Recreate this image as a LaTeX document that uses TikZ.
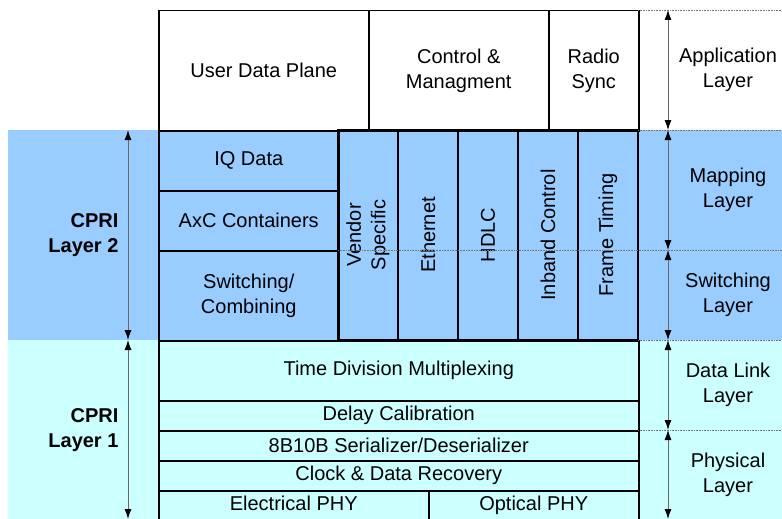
\documentclass[tikz,border=0pt]{standalone}
\usepackage{fontspec}
\setmainfont{Liberation Sans}
\usetikzlibrary{arrows.meta,positioning}
\definecolor{layertwo}{HTML}{99CCFF}
\definecolor{layerone}{HTML}{CCFFFF}
\tikzset{
  cell/.style={
    draw,
    line width = 1.5pt,
    anchor = north west,
    inner sep = 0pt,
    align = center
  },
  wh/.style 2 args={
    minimum width = #1pt,
    minimum height = #2pt
  },
  guide/.style={
    draw = black!55,
    densely dotted,
    line width = 0.6pt
  },
  dim/.style={
    draw = black!60,
    line width = 0.9pt,
    arrows = {Latex[length=10pt,width=7pt,color=black]-Latex[length=10pt,width=7pt,color=black]}
  },
  every picture/.style = {
    font=\fontsize{20}{24.5}\selectfont
  },
  layer/.style={
    align = center
  }
}
\begin{document}
\begin{tikzpicture}[x=1pt,y=-1pt]
  \useasboundingbox (0,0) rectangle (782,519);
  \fill[layertwo] (8,130) rectangle (782,340);
  \fill[layerone] (8,340) rectangle (782,519);
  % application row
  \node[cell,wh={210}{120}] (udp) at (158,10) {User Data Plane};
  \node[cell,wh={180}{120}] (cm) at (368,10) {Control \&\\Managment};
  \node[cell,wh={90}{120}] (rs) at (548,10) {Radio\\Sync};
  % layer 2
  \node[cell,wh={180}{60}] (iq) at (158,130) {IQ Data};
  \node[cell,wh={180}{60}] (axc) at (158,190) {AxC Containers};
  \node[cell,wh={180}{90}] (sw) at (158,250) {Switching/\\Combining};
  \foreach \x/\t [count=\i] in {368/{Vendor\\Specific},428/Ethernet,488/HDLC,548/Inband Control,608/Frame Timing}{
    \node[cell,anchor=center,rotate=90,wh={210}{60}] (c\i) at (\x,235) {\t};
  }
  % layer 1
  \node[cell,wh={480}{60}] (tdm) at (158,340) {Time Division Multiplexing};
  \node[cell,wh={480}{30}] (dc) at (158,400) {Delay Calibration};
  \node[cell,wh={480}{30}] (ser) at (158,430) {8B10B Serializer/Deserializer};
  \node[cell,wh={480}{30}] (cdr) at (158,460) {Clock \& Data Recovery};
  \node[cell,wh={270}{30},text depth=4.5pt] (ephy) at (158,490) {Electrical PHY};
  \node[cell,wh={210}{30},text depth=4.5pt] (ophy) at (428,490) {Optical PHY};
  % guides
  \draw[guide] (338,250) -- (782,250);
  \foreach \y in {10,130,340,430}{
    \draw[guide] (638,\y) -- (782,\y);
  }
  % dimension arrows
  \foreach \y [count=\i from 0] in {10,130,250,340,430,519}{
    \coordinate (r\i) at (668,\y);
  }
  \foreach \y [count=\i from 0] in {130,340,519}{
    \coordinate (l\i) at (128,\y);
  }
  \foreach \a/\b in {r0/r1,r1/r2,r2/r3,r3/r4,r4/r5,l0/l1,l1/l2}{
    \draw[dim] (\a) -- (\b);
  }
  \node[layer] (app) at (728,70) {Application\\Layer};
  \node[layer] (map) at (728,190) {Mapping\\Layer};
  \node[layer] (swl) at (728,295) {Switching\\Layer};
  \node[layer] (dll) at (728,385) {Data Link\\Layer};
  \node[layer] (phy) at (728,475) {Physical\\Layer};
  \node[align=right,anchor=east,font=\fontsize{20}{24.5}\selectfont\bfseries] (cl2) at (122,235) {CPRI\\Layer 2};
  \node[align=right,anchor=east,font=\fontsize{20}{24.5}\selectfont\bfseries] (cl1) at (122,430) {CPRI\\Layer 1};
\end{tikzpicture}
\end{document}
